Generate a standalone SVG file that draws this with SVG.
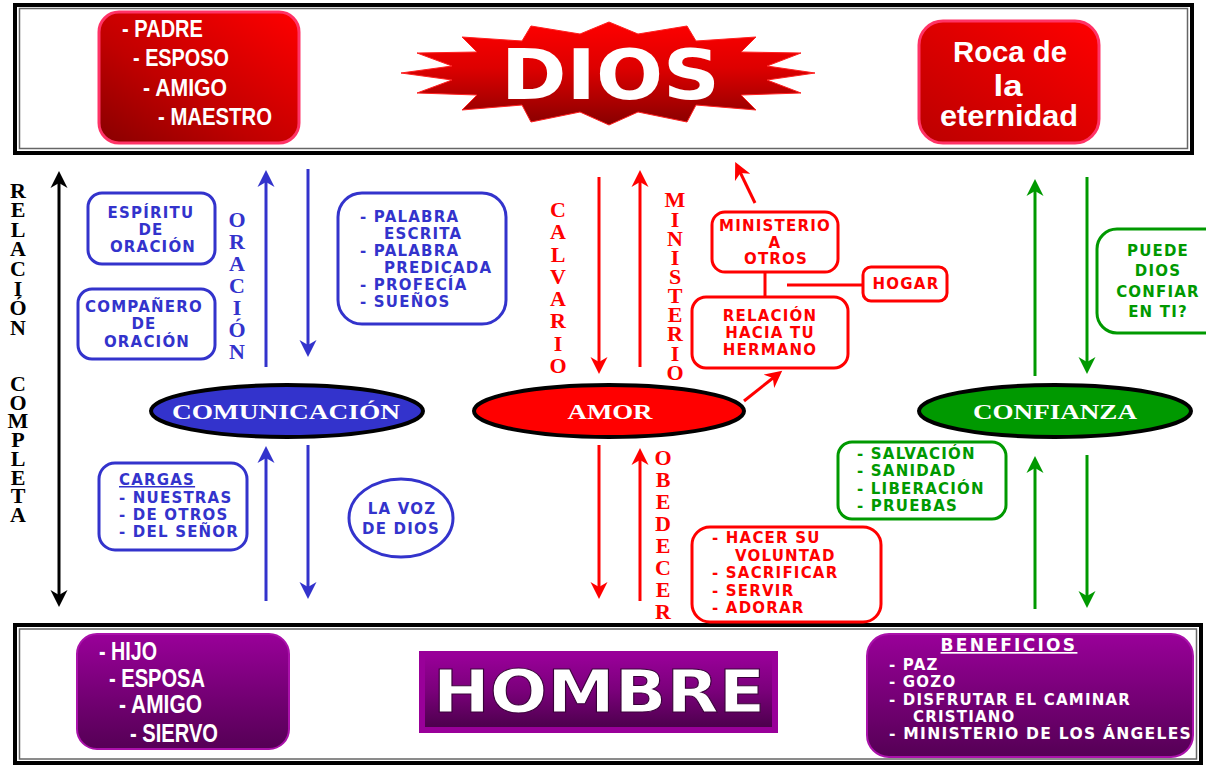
<svg xmlns="http://www.w3.org/2000/svg" width="1206" height="767" viewBox="0 0 1206 767">
<defs>
<style>
.bx{font-family:"DejaVu Sans","Liberation Sans",sans-serif;font-weight:bold;font-size:15px;letter-spacing:1.2px}
.c{text-anchor:middle}
.blue{fill:#3333cc}.red{fill:#ff0000}.green{fill:#009900}.wh{fill:#ffffff}
.bb{fill:#ffffff;stroke:#3333cc;stroke-width:3}
.rb{fill:#ffffff;stroke:#ff0000;stroke-width:3}
.gb{fill:#ffffff;stroke:#009900;stroke-width:3}
.vt{font-family:"Liberation Serif",serif;font-weight:bold;font-size:22px;writing-mode:vertical-rl;text-orientation:upright}
.nar{font-family:"Liberation Sans Narrow","Liberation Sans",sans-serif;font-weight:bold;fill:#ffffff}
.el{font-family:"Liberation Serif",serif;font-weight:bold;font-size:22px;fill:#ffffff;text-anchor:middle}
.ab{stroke:#3333cc;stroke-width:3;fill:none}
.ar{stroke:#ff0000;stroke-width:3;fill:none}
.ag{stroke:#009900;stroke-width:3;fill:none}
.ak{stroke:#000000;stroke-width:3;fill:none}
</style>
<linearGradient id="gRed" x1="1" y1="0" x2="0" y2="1"><stop offset="0" stop-color="#ff0000"/><stop offset="0.6" stop-color="#c00000"/><stop offset="1" stop-color="#880000"/></linearGradient>
<linearGradient id="gRed2" x1="1" y1="0" x2="0" y2="1"><stop offset="0" stop-color="#ff0000"/><stop offset="1" stop-color="#bb0000"/></linearGradient>
<linearGradient id="gStar" x1="0" y1="0" x2="0" y2="1"><stop offset="0" stop-color="#ff0000"/><stop offset="0.45" stop-color="#dd0000"/><stop offset="1" stop-color="#880000"/></linearGradient>
<linearGradient id="gPur" x1="0" y1="0" x2="0" y2="1"><stop offset="0" stop-color="#990099"/><stop offset="1" stop-color="#550055"/></linearGradient>
<linearGradient id="gPur2" x1="0" y1="0" x2="0" y2="1"><stop offset="0" stop-color="#990099"/><stop offset="0.5" stop-color="#7a007a"/><stop offset="1" stop-color="#4d004d"/></linearGradient>
<marker id="mB" viewBox="0 0 18 18" refX="6" refY="9" markerWidth="18" markerHeight="18" markerUnits="userSpaceOnUse" orient="auto"><path d="M0,0.5 L17,9 L0,17.5 L5,9 z" fill="#3333cc"/></marker>
<marker id="mR" viewBox="0 0 18 18" refX="6" refY="9" markerWidth="18" markerHeight="18" markerUnits="userSpaceOnUse" orient="auto"><path d="M0,0.5 L17,9 L0,17.5 L5,9 z" fill="#ff0000"/></marker>
<marker id="mG" viewBox="0 0 18 18" refX="6" refY="9" markerWidth="18" markerHeight="18" markerUnits="userSpaceOnUse" orient="auto"><path d="M0,0.5 L17,9 L0,17.5 L5,9 z" fill="#009900"/></marker>
<marker id="mK" viewBox="0 0 18 18" refX="6" refY="9" markerWidth="18" markerHeight="18" markerUnits="userSpaceOnUse" orient="auto-start-reverse"><path d="M0,0.5 L17,9 L0,17.5 L5,9 z" fill="#000000"/></marker>
</defs>
<rect width="1206" height="767" fill="#ffffff"/>

<g id="frame-top">
<rect x="15" y="5" width="1177" height="148" fill="none" stroke="#000" stroke-width="4"/>
<rect x="19.5" y="8.5" width="1168" height="140" fill="none" stroke="#666" stroke-width="1.5"/>
</g>
<g id="frame-bottom">
<rect x="15" y="625" width="1186" height="138" fill="none" stroke="#000" stroke-width="4"/>
<rect x="19.5" y="629" width="1177" height="130" fill="none" stroke="#666" stroke-width="1.5"/>
</g>

<g id="padre">
<rect x="99" y="12" width="200" height="131" rx="20" fill="url(#gRed)" stroke="#ff3366" stroke-width="3"/>
<text class="nar" font-size="23"><tspan x="122" y="37" textLength="81" lengthAdjust="spacingAndGlyphs">- PADRE</tspan><tspan x="133" y="66" textLength="96" lengthAdjust="spacingAndGlyphs">- ESPOSO</tspan><tspan x="143" y="96" textLength="84" lengthAdjust="spacingAndGlyphs">- AMIGO</tspan><tspan x="158" y="125" textLength="114" lengthAdjust="spacingAndGlyphs">- MAESTRO</tspan></text>
</g>

<g id="dios">
<polygon points="609,22 638,34 687,26 696,41 756,37 741,52 801,53 767,66 815,73 767,80 801,93 741,95 756,110 696,105 687,122 638,112 609,125 580,112 531,122 522,105 462,110 477,95 417,93 452,80 401,73 452,66 417,53 477,52 462,37 522,41 531,26 580,34" fill="url(#gStar)" stroke="#ff2020" stroke-width="1"/>
<text x="501" y="99" font-family="DejaVu Sans, Liberation Sans, sans-serif" font-weight="bold" font-size="70" fill="#ffffff" textLength="219" lengthAdjust="spacingAndGlyphs">DIOS</text>
</g>

<g id="roca">
<rect x="919" y="21" width="180" height="122" rx="24" fill="url(#gRed2)" stroke="#ff3366" stroke-width="3"/>
<text class="nar" font-size="30" text-anchor="middle"><tspan x="1010" y="62" textLength="114" lengthAdjust="spacingAndGlyphs">Roca de</tspan><tspan x="1008" y="96" textLength="29" lengthAdjust="spacingAndGlyphs">la</tspan><tspan x="1009" y="126" textLength="138" lengthAdjust="spacingAndGlyphs">eternidad</tspan></text>
</g>

<g id="relacion-completa">
<text class="vt" font-size="24" fill="#000" x="18" y="177.5" letter-spacing="-5.4">RELACIÓN</text>
<text class="vt" font-size="24" fill="#000" x="18" y="371" letter-spacing="-6.3">COMPLETA</text>
</g>

<g id="espiritu">
<rect class="bb" x="88" y="193" width="127" height="71" rx="14"/>
<text class="bx blue c"><tspan x="151" y="218">ESPÍRITU</tspan><tspan x="151" y="235">DE</tspan><tspan x="153" y="252">ORACIÓN</tspan></text>
</g>
<g id="companero">
<rect class="bb" x="78" y="289" width="137" height="70" rx="14"/>
<text class="bx blue c"><tspan x="144" y="312">COMPAÑERO</tspan><tspan x="144" y="329">DE</tspan><tspan x="147" y="347">ORACIÓN</tspan></text>
</g>
<g id="oracion-label">
<text class="vt blue" x="237" y="207" letter-spacing="-2.95">ORACIÓN</text>
</g>
<g id="palabra">
<rect class="bb" x="338" y="193" width="168" height="131" rx="24"/>
<text class="bx blue"><tspan x="360" y="222">- PALABRA</tspan><tspan x="384" y="239">ESCRITA</tspan><tspan x="360" y="256">- PALABRA</tspan><tspan x="384" y="273">PREDICADA</tspan><tspan x="360" y="290">- PROFECÍA</tspan><tspan x="360" y="307">- SUEÑOS</tspan></text>
</g>

<g id="comunicacion">
<ellipse cx="287" cy="411" rx="136" ry="26" fill="#3333cc" stroke="#000" stroke-width="4"/>
<text class="el" x="286" y="419" textLength="228" lengthAdjust="spacingAndGlyphs">COMUNICACIÓN</text>
</g>
<g id="amor">
<ellipse cx="609" cy="411" rx="135" ry="26" fill="#ff0000" stroke="#000" stroke-width="4"/>
<text class="el" x="610" y="419" textLength="85" lengthAdjust="spacingAndGlyphs">AMOR</text>
</g>
<g id="confianza">
<ellipse cx="1055" cy="411" rx="136" ry="26" fill="#009900" stroke="#000" stroke-width="4"/>
<text class="el" x="1055" y="419" textLength="164" lengthAdjust="spacingAndGlyphs">CONFIANZA</text>
</g>

<g id="cargas">
<rect class="bb" x="99" y="463" width="148" height="87" rx="16"/>
<text class="bx blue"><tspan x="119" y="485" text-decoration="underline">CARGAS</tspan><tspan x="119" y="503">- NUESTRAS</tspan><tspan x="119" y="520">- DE OTROS</tspan><tspan x="119" y="537">- DEL SEÑOR</tspan></text>
</g>
<g id="lavoz">
<ellipse class="bb" cx="401" cy="518" rx="52" ry="39"/>
<text class="bx blue c" font-size="17" letter-spacing="2"><tspan x="402" y="514">LA VOZ</tspan><tspan x="401" y="534">DE DIOS</tspan></text>
</g>

<g id="calvario-label">
<text class="vt red" x="558" y="197" letter-spacing="-2.75">CALVARIO</text>
</g>
<g id="ministerio-label">
<text class="vt red" x="675" y="187.4" letter-spacing="-5.85">MINISTERIO</text>
</g>
<g id="obedecer-label">
<text class="vt red" x="663" y="445" letter-spacing="-3.05">OBEDECER</text>
</g>

<g id="ministerio-otros">
<rect class="rb" x="712" y="212" width="126" height="60" rx="13"/>
<text class="bx red c"><tspan x="775" y="231">MINISTERIO</tspan><tspan x="775" y="248">A</tspan><tspan x="776" y="264">OTROS</tspan></text>
</g>
<g id="relacion-hermano">
<rect class="rb" x="692" y="297" width="156" height="71" rx="14"/>
<text class="bx red c"><tspan x="770" y="321">RELACIÓN</tspan><tspan x="770" y="338">HACIA TU</tspan><tspan x="770" y="355">HERMANO</tspan></text>
</g>
<g id="hogar">
<rect class="rb" x="863" y="267" width="84" height="34" rx="8"/>
<text class="bx red c" x="906" y="289">HOGAR</text>
</g>
<g id="hacer">
<rect class="rb" x="692" y="527" width="189" height="95" rx="18"/>
<text class="bx red"><tspan x="712" y="543">- HACER SU</tspan><tspan x="735" y="561">VOLUNTAD</tspan><tspan x="712" y="578">- SACRIFICAR</tspan><tspan x="712" y="596">- SERVIR</tspan><tspan x="712" y="613">- ADORAR</tspan></text>
</g>

<g id="puede">
<rect class="gb" x="1097" y="229" width="130" height="104" rx="20"/>
<text class="bx green c" font-size="17" letter-spacing="1.5"><tspan x="1158" y="256">PUEDE</tspan><tspan x="1158" y="276">DIOS</tspan><tspan x="1158" y="297">CONFIAR</tspan><tspan x="1158" y="317">EN TI?</tspan></text>
</g>
<g id="salvacion">
<rect class="gb" x="838" y="442" width="168" height="77" rx="14"/>
<text class="bx green"><tspan x="857" y="459">- SALVACIÓN</tspan><tspan x="857" y="476">- SANIDAD</tspan><tspan x="857" y="494">- LIBERACIÓN</tspan><tspan x="857" y="511">- PRUEBAS</tspan></text>
</g>

<g id="hijo">
<rect x="77" y="634" width="212" height="115" rx="20" fill="url(#gPur)" stroke="#aa11aa" stroke-width="2"/>
<text class="nar" font-size="25"><tspan x="99" y="660" textLength="58" lengthAdjust="spacingAndGlyphs">- HIJO</tspan><tspan x="109" y="687" textLength="96" lengthAdjust="spacingAndGlyphs">- ESPOSA</tspan><tspan x="119" y="713" textLength="83" lengthAdjust="spacingAndGlyphs">- AMIGO</tspan><tspan x="130" y="742" textLength="88" lengthAdjust="spacingAndGlyphs">- SIERVO</tspan></text>
</g>
<g id="hombre">
<rect x="419" y="651" width="359" height="82" fill="#990099"/>
<rect x="425" y="655" width="347" height="72" fill="url(#gPur2)"/>
<text x="433" y="712" font-family="DejaVu Sans, Liberation Sans, sans-serif" font-weight="bold" font-size="58" fill="#ffffff" stroke="#3a003a" stroke-width="1" textLength="332" lengthAdjust="spacingAndGlyphs">HOMBRE</text>
</g>
<g id="beneficios">
<rect x="867" y="634" width="326" height="123" rx="22" fill="url(#gPur)" stroke="#aa11aa" stroke-width="2"/>
<text class="bx wh" font-size="14" letter-spacing="1.8"><tspan x="1009" y="651" font-size="17" letter-spacing="2.3" text-anchor="middle" text-decoration="underline">BENEFICIOS</tspan><tspan x="889" y="670">- PAZ</tspan><tspan x="889" y="687">- GOZO</tspan><tspan x="889" y="705">- DISFRUTAR EL CAMINAR</tspan><tspan x="913" y="722">CRISTIANO</tspan><tspan x="889" y="739" textLength="303" lengthAdjust="spacingAndGlyphs">- MINISTERIO DE LOS ÁNGELES</tspan></text>
</g>

<g id="connectors">
<line class="ak" x1="59" y1="182" x2="59" y2="596" marker-start="url(#mK)" marker-end="url(#mK)"/>
<line class="ab" x1="266" y1="367" x2="266" y2="181" marker-end="url(#mB)"/>
<line class="ab" x1="308" y1="169" x2="308" y2="346" marker-end="url(#mB)"/>
<line class="ab" x1="266" y1="601" x2="266" y2="457" marker-end="url(#mB)"/>
<line class="ab" x1="308" y1="445" x2="308" y2="588" marker-end="url(#mB)"/>
<line class="ar" x1="599" y1="177" x2="599" y2="363" marker-end="url(#mR)"/>
<line class="ar" x1="640" y1="367" x2="640" y2="181" marker-end="url(#mR)"/>
<line class="ar" x1="599" y1="445" x2="599" y2="588" marker-end="url(#mR)"/>
<line class="ar" x1="640" y1="601" x2="640" y2="459" marker-end="url(#mR)"/>
<line class="ar" x1="755" y1="203" x2="740" y2="172" marker-end="url(#mR)"/>
<line class="ar" x1="744" y1="401" x2="773.6" y2="377.5" marker-end="url(#mR)"/>
<line class="ar" x1="765" y1="272" x2="765" y2="297"/>
<line class="ar" stroke-width="4" x1="787" y1="285" x2="863" y2="285"/>
<line class="ag" x1="1035" y1="376" x2="1035" y2="190" marker-end="url(#mG)"/>
<line class="ag" x1="1087" y1="177" x2="1087" y2="363" marker-end="url(#mG)"/>
<line class="ag" x1="1035" y1="609" x2="1035" y2="467" marker-end="url(#mG)"/>
<line class="ag" x1="1087" y1="455" x2="1087" y2="597" marker-end="url(#mG)"/>
</g>
</svg>
